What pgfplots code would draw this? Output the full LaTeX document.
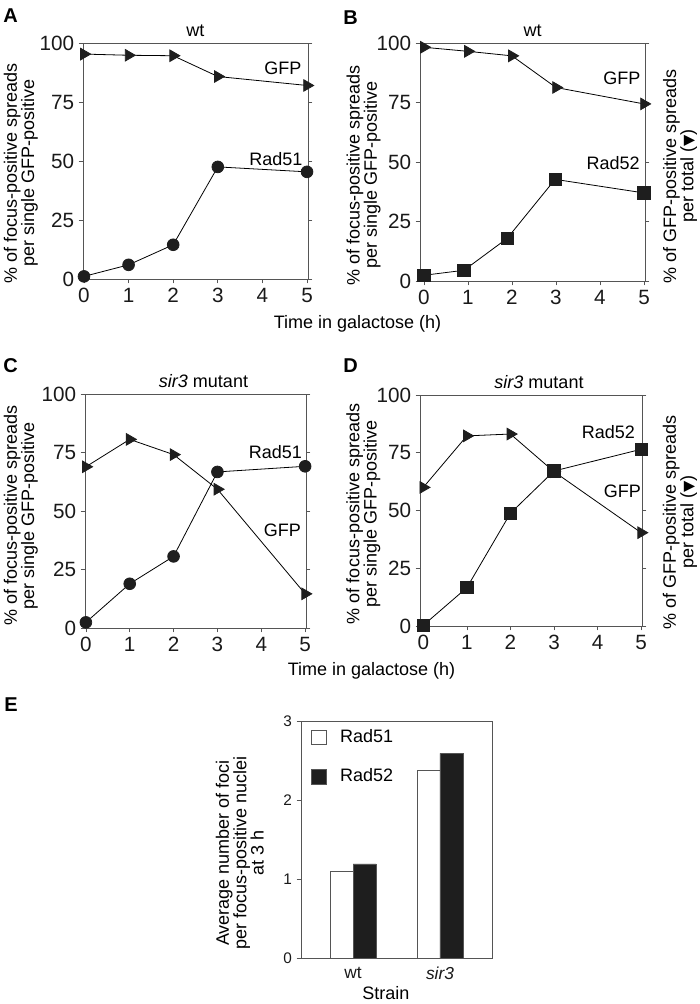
\documentclass[border=0pt]{standalone}
\usepackage{fontspec}
\setmainfont{Liberation Sans}
\newfontfamily\djv{DejaVu Sans}
\usepackage{pgfplots}
\pgfplotsset{compat=1.18}

\definecolor{ax}{HTML}{555555}
\definecolor{mk}{HTML}{1E1E1E}

\tikzset{lab/.style={font=\fontsize{13.5}{13}\selectfont, inner sep=0pt},
  letter/.style={font=\bfseries\fontsize{15}{15}\selectfont, anchor=north west, inner sep=0pt}}

\pgfplotsset{
 panel/.style={
  scale only axis, clip=false,
  axis line style={draw=ax, line width=0.55pt},
  major tick style={draw=ax, line width=0.55pt},
  tick align=outside, major tick length=3.2pt,
  xtick pos=left, ytick pos=both, yticklabel pos=left,
  ymin=0, ymax=100, ytick={0,25,50,75,100}, xtick={0,1,2,3,4,5},
  /pgf/number format/assume math mode=true,
  tick label style={font=\fontsize{15.5}{15.5}\selectfont, text=black!90},
  label style={font=\fontsize{13.5}{13}\selectfont},
  title style={font=\fontsize{13.5}{13}\selectfont, yshift=-4.5pt},
  ylabel style={align=center, anchor=center},
 },
 gfp/.style={line width=0.6pt, black, mark=triangle*, mark size=5pt, mark options={rotate=-90, fill=mk, draw=mk}},
 r51/.style={line width=0.6pt, black, mark=*, mark size=4.4pt, mark options={fill=mk, draw=mk}},
 r52/.style={line width=0.6pt, black, mark=square*, mark size=4.6pt, mark options={fill=mk, draw=mk}},
}

\begin{document}
\begin{tikzpicture}
\path[use as bounding box] (0,0) rectangle (525pt,753pt);

% Panel letters
\node[letter] at (2.25pt,747pt) {A};
\node[letter] at (257.25pt,745.5pt) {B};
\node[letter] at (2.25pt,484.5pt) {C};
\node[letter] at (257.25pt,484.5pt) {D};
\node[letter] at (3pt,230.25pt) {E};

% shared x labels
\node[lab] at (268.1pt,510.4pt) {Time in galactose (h)};
\node[lab] at (278.6pt,250.1pt) {Time in galactose (h)};

% ---------- A ----------
\begin{axis}[panel, at={(62.25pt,543.75pt)}, anchor=south west,
  width=168.75pt, height=177pt, xmin=-0.022, xmax=5.022,
  title={wt},
  ylabel={\% of focus-positive spreads\\per single GFP-positive},
  ylabel style={at={(axis description cs:-0.276,0.449)}}]
\addplot[gfp] coordinates {(0,95.3)(1,94.8)(2,94.6)(3,85.8)(5,82)};
\addplot[r51] coordinates {(0,1.1)(1,6)(2,14.5)(3,47.5)(5,45.4)};
\node[lab] at (axis cs:4.46,89.2) {GFP};
\node[lab] at (axis cs:4.3,51) {Rad51};
\end{axis}

% ---------- B ----------
\begin{axis}[panel, at={(315pt,542.25pt)}, anchor=south west,
  width=168.75pt, height=178.5pt, xmin=-0.09, xmax=5.023,
  title={wt},
  ylabel={\% of focus-positive spreads\\per single GFP-positive},
  ylabel style={at={(axis description cs:-0.251,0.445)}}]
\addplot[gfp] coordinates {(0,98.2)(1,96.5)(2,94.6)(3,81.3)(5,74.4)};
\addplot[r52] coordinates {(0,2.4)(0.91,4.5)(1.89,17.9)(2.98,42.7)(5,37)};
\node[lab] at (axis cs:4.5,85) {GFP};
\node[lab] at (axis cs:4.3,49.4) {Rad52};
\node[rotate=90, align=center, font=\fontsize{13.5}{13}\selectfont] at (axis description cs:1.156,0.44)
  {\% of GFP-positive spreads\\per total ({\djv\fontsize{11}{11}\selectfont ▼})};
\end{axis}

% ---------- C ----------
\begin{axis}[panel, at={(63.75pt,282pt)}, anchor=south west,
  width=165.75pt, height=175.5pt, xmin=-0.02, xmax=5.02,
  title={\textit{sir3} mutant}, title style={xshift=6pt},
  ylabel={\% of focus-positive spreads\\per single GFP-positive},
  ylabel style={at={(axis description cs:-0.29,0.479)}}]
\addplot[gfp] coordinates {(0,68.9)(1,80.6)(2,74.1)(3,59.3)(5,14.6)};
\addplot[r51] coordinates {(0,2.4)(1,18.9)(2,30.6)(3,66.7)(5,69.1)};
\node[lab] at (axis cs:4.32,75.3) {Rad51};
\node[lab] at (axis cs:4.48,41.6) {GFP};
\end{axis}

% ---------- D ----------
\begin{axis}[panel, at={(315pt,283.5pt)}, anchor=south west,
  width=166.5pt, height=173.25pt, xmin=-0.076, xmax=5.02,
  title={\textit{sir3} mutant}, title style={xshift=6pt},
  ylabel={\% of focus-positive spreads\\per single GFP-positive},
  ylabel style={at={(axis description cs:-0.255,0.485)}}]
\addplot[gfp] coordinates {(0,60)(1,82.3)(2,83.1)(3,66.8)(5,40.4)};
\addplot[r52] coordinates {(0,0.3)(1,16.6)(2,48.8)(3,67.1)(5,76.5)};
\node[lab] at (axis cs:4.25,83.8) {Rad52};
\node[lab] at (axis cs:4.57,58.1) {GFP};
\node[rotate=90, align=center, font=\fontsize{13.5}{13}\selectfont] at (axis description cs:1.171,0.45)
  {\% of GFP-positive spreads\\per total ({\djv\fontsize{11}{11}\selectfont ▼})};
\end{axis}

% ---------- E ----------
\begin{axis}[scale only axis, at={(225.75pt,34.5pt)}, anchor=south west,
  width=143.25pt, height=177.75pt,
  ymin=0, ymax=3, ytick={0,1,2,3},
  xmin=-0.598, xmax=1.598, xtick={0,1}, xticklabels={wt,\textit{sir3}},
  ybar=0pt, bar width=17.25pt,
  axis line style={draw=ax, line width=0.55pt},
  major tick style={draw=ax, line width=0.55pt},
  tick align=outside, major tick length=3.2pt,
  ytick pos=left, xtick pos=left, xtick style={draw=none},
  /pgf/number format/assume math mode=true,
  yticklabel style={font=\fontsize{11.5}{11.5}\selectfont, text=black!90},
  xticklabel style={font=\fontsize{13}{13}\selectfont, text=black!90},
  label style={font=\fontsize{13.5}{13}\selectfont},
  ylabel={Average number of foci\\per focus-positive nuclei\\at 3 h},
  ylabel style={at={(axis description cs:-0.32,0.443)}, align=center, anchor=center},
  xlabel={Strain},
  xlabel style={at={(axis description cs:0.445,-0.146)}, anchor=center},
  legend style={draw=none, fill=none, at={(axis description cs:0.051,0.975)}, anchor=north west,
    font=\fontsize{13.5}{13}\selectfont, row sep=14pt, inner sep=0pt, cells={anchor=west},
    /tikz/every odd column/.append style={column sep=8pt}},
  legend image code/.code={\draw[#1] (0pt,-5.6pt) rectangle (11.25pt,5.6pt);}]
\addplot[fill=white, draw=ax, line width=0.55pt] coordinates {(0,1.1)(1,2.38)};
\addplot[fill=mk, draw=ax, line width=0.55pt] coordinates {(0,1.19)(1,2.59)};
\legend{Rad51,Rad52}
\end{axis}
\end{tikzpicture}
\end{document}
